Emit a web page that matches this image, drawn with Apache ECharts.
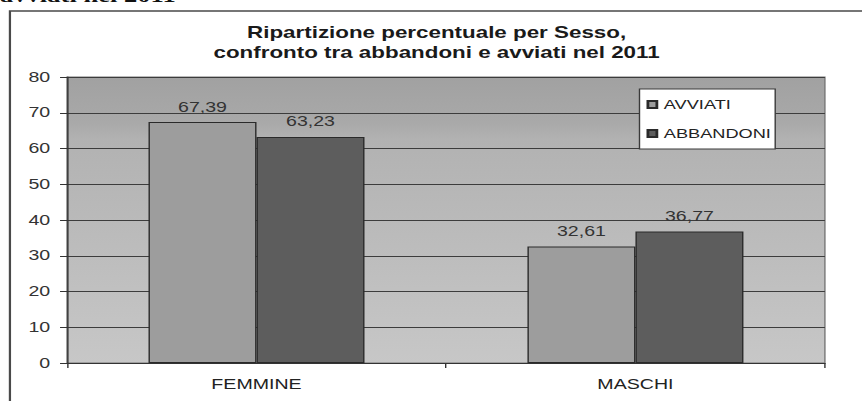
<!DOCTYPE html>
<html>
<head>
<meta charset="utf-8">
<script src="https://cdn.jsdelivr.net/npm/echarts@6/dist/echarts.min.js"></script>
<style>
  html, body { margin: 0; padding: 0; background: #fff; overflow: hidden; }
  /* the printed chart is horizontally wide-set, so the drawing is stretched along x */
  #chart { width: 616px; height: 401px; transform: scaleX(1.39935); transform-origin: 0 0; }
</style>
</head>
<body>
<div id="chart"></div>
<script>
const categories = ['FEMMINE', 'MASCHI'];
const seriesNames = ['AVVIATI', 'ABBANDONI'];
const avviati = [67.39, 32.61];
const abbandoni = [63.23, 36.77];
const yMin = 0, yMax = 80, yStep = 10;
const titleLines = ['Ripartizione percentuale per Sesso,', 'confronto tra abbandoni e avviati nel 2011'];
const headerText = 'avviati nel 2011';

const sans = 'Arial, "Liberation Sans", sans-serif';
const fmtComma = p => p.value.toFixed(2).replace('.', ',');

const chart = echarts.init(document.getElementById('chart'), null, { renderer: 'svg' });

chart.setOption({
  animation: false,
  backgroundColor: '#ffffff',
  textStyle: { fontFamily: sans },
  title: {
    text: titleLines.join('\n'),
    left: 312,
    top: 22,
    textAlign: 'center',
    padding: 0,
    textStyle: { fontFamily: sans, fontSize: 16, fontWeight: 'bold', color: '#1a1a1a', lineHeight: 20 }
  },
  graphic: [
    {
      type: 'text', left: 0, top: -14, silent: true,
      style: { text: headerText, font: 'bold 19px "Liberation Serif", "Times New Roman", serif', fill: '#111' }
    },
    {
      type: 'rect', silent: true, z: -1,
      shape: { x: 7.1, y: 11, width: 800, height: 600 },
      style: { fill: 'none', stroke: '#4a4a4a', lineWidth: 1.6 }
    }
  ],
  legend: {
    data: seriesNames,
    orient: 'vertical',
    left: 457,
    top: 89,
    backgroundColor: '#ffffff',
    borderColor: '#3a3a3a',
    borderWidth: 1,
    borderRadius: 0,
    padding: [9, 3, 9, 5],
    itemWidth: 6.4,
    itemHeight: 7,
    itemGap: 16,
    icon: 'rect',
    textStyle: { fontFamily: sans, fontSize: 13, color: '#222' }
  },
  grid: {
    left: 47.9, right: 26.5, top: 77, bottom: 38,
    show: true,
    borderColor: '#777',
    borderWidth: 1,
    backgroundColor: new echarts.graphic.LinearGradient(0, 0, 0, 1, [
      { offset: 0, color: '#a1a1a1' },
      { offset: 0.16, color: '#a9a9a9' },
      { offset: 0.22, color: '#b2b2b2' },
      { offset: 1, color: '#c7c7c7' }
    ])
  },
  xAxis: {
    type: 'category',
    data: categories,
    axisLine: { lineStyle: { color: '#333', width: 1 } },
    axisTick: { show: true, alignWithLabel: false, length: 5, lineStyle: { color: '#333' } },
    axisLabel: { margin: 14, fontFamily: sans, fontSize: 14, color: '#222' }
  },
  yAxis: {
    type: 'value',
    min: yMin, max: yMax, interval: yStep,
    axisLine: { show: true, lineStyle: { color: '#333', width: 1 } },
    axisTick: { show: true, length: 5, lineStyle: { color: '#333' } },
    axisLabel: { margin: 12, fontFamily: sans, fontSize: 14, color: '#333' },
    splitLine: { show: true, lineStyle: { color: '#3c3c3c', width: 1 } }
  },
  series: [
    {
      name: seriesNames[0], type: 'bar', data: avviati,
      barGap: '0%', barCategoryGap: '43%',
      itemStyle: { color: '#9d9d9d', borderColor: '#2a2a2a', borderWidth: 1 },
      label: { show: true, position: 'top', distance: 8, formatter: fmtComma,
               fontFamily: sans, fontSize: 14, color: '#333' }
    },
    {
      name: seriesNames[1], type: 'bar', data: abbandoni,
      barGap: '0%', barCategoryGap: '43%',
      itemStyle: { color: '#5d5d5d', borderColor: '#2a2a2a', borderWidth: 1 },
      label: { show: true, position: 'top', distance: 8, formatter: fmtComma,
               fontFamily: sans, fontSize: 14, color: '#333' }
    }
  ]
});
</script>
</body>
</html>
